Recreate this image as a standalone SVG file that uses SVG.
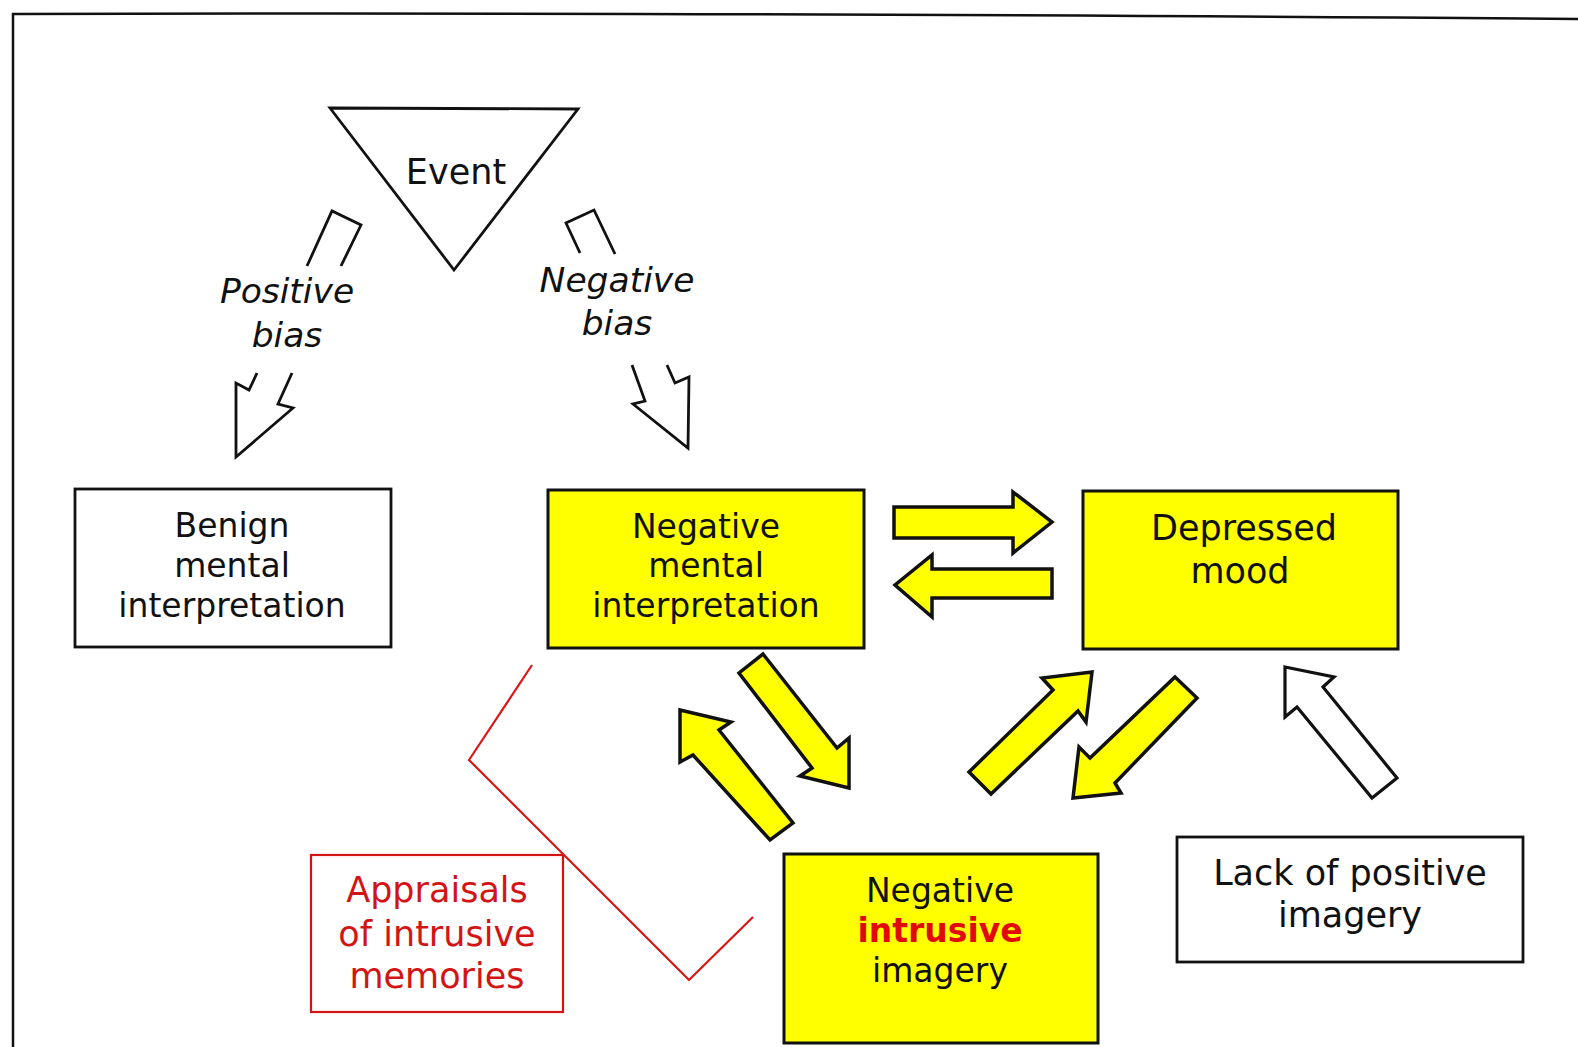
<svg xmlns="http://www.w3.org/2000/svg" width="1578" height="1047" viewBox="0 0 1578 1047">
<style>
.t{font-family:"DejaVu Sans",Verdana,sans-serif;font-size:33px;fill:#111;text-anchor:middle}
.big{font-size:35px}
.it{font-style:italic;font-size:34.5px}
.box{fill:#fff;stroke:#111;stroke-width:2.8}
.ybox{fill:#ffff00;stroke:#111;stroke-width:3}
.yarr{fill:#ffff00;stroke:#111;stroke-width:3.5;stroke-linejoin:miter}
.warr{fill:#fff;stroke:#111;stroke-width:3.2}
.brk{fill:none;stroke:#111;stroke-width:2.8;stroke-linejoin:miter}
.red{fill:none;stroke:#dd1515;stroke-width:2.2}
.rt{fill:#d41414}
</style>
<rect x="0" y="0" width="1578" height="1047" fill="#fff"/>
<path d="M13,1047 L13,14 Q700,12 1578,19" fill="none" stroke="#111" stroke-width="2.5"/>

<g id="event">
<polygon points="330,108 578,109 454,270" fill="#fff" stroke="#111" stroke-width="2.8"/>
<text class="t big" x="456" y="184">Event</text>
</g>

<g id="benign">
<rect class="box" x="75" y="489" width="316" height="158"/>
<text class="t" x="232" y="537">Benign</text>
<text class="t" x="232" y="577">mental</text>
<text class="t" x="232" y="617">interpretation</text>
</g>

<g id="neg-interp">
<rect class="ybox" x="548" y="490" width="316" height="158"/>
<text class="t" x="706" y="538">Negative</text>
<text class="t" x="706" y="577">mental</text>
<text class="t" x="706" y="617">interpretation</text>
</g>

<g id="depressed">
<rect class="ybox" x="1083" y="491" width="315" height="158"/>
<text class="t big" x="1244" y="540">Depressed</text>
<text class="t big" x="1240" y="583">mood</text>
</g>

<g id="neg-intrusive">
<rect class="ybox" x="784" y="854" width="314" height="189"/>
<text class="t" x="940" y="902">Negative</text>
<text class="t" x="940" y="942" style="fill:#e00a0a;font-weight:bold">intrusive</text>
<text class="t" x="940" y="982">imagery</text>
</g>

<g id="lack">
<rect class="box" x="1177" y="837" width="346" height="125"/>
<text class="t big" x="1350" y="885">Lack of positive</text>
<text class="t big" x="1350" y="927">imagery</text>
</g>

<g id="appraisals">
<rect x="311" y="855" width="252" height="157" fill="#fff" stroke="#d41414" stroke-width="2.2"/>
<text class="t big rt" x="437" y="902">Appraisals</text>
<text class="t big rt" x="437" y="946">of intrusive</text>
<text class="t big rt" x="437" y="988">memories</text>
</g>

<g id="connectors">
<g id="positive-bias">
<polyline class="brk" points="307,266 332,211 361,225 341,266"/>
<text class="t it" x="287" y="303">Positive</text>
<text class="t it" x="287" y="347">bias</text>
<polyline class="brk" points="257,373 249,390 236,383 236,457 293,408 278,404 292,373"/>
</g>
<g id="negative-bias">
<polyline class="brk" points="580,253 566,223 594,210 615,254"/>
<text class="t it" x="617" y="292">Negative</text>
<text class="t it" x="617" y="335">bias</text>
<polyline class="brk" points="632,365 645,401 633,404 688,448 689,377 675,383 667,365"/>
</g>
<polygon class="yarr" points="894,507 1013,507 1013,492 1052,522 1013,553 1013,538 894,538"/>
<polygon class="yarr" points="1052,569 932,569 932,555 895,585 932,617 932,598 1052,598"/>
<polygon class="yarr" points="763,654 837,748 849,738 849,788 800,776 812,768 739,673"/>
<polygon class="yarr" points="680,710 731,722 719,730 793,823 770,840 693,755 680,762"/>
<polygon class="yarr" points="1092,672 1086,722 1078,711 991,794 969,772 1053,690 1042,678"/>
<polygon class="yarr" points="1175,677 1197,698 1115,783 1121,793 1073,798 1079,747 1090,758"/>
<polygon class="warr" points="1285,667 1334,677 1323,687 1397,778 1372,798 1297,707 1285,717"/>
<polyline class="red" points="532,665 469,760 689,980 753,917"/>
</g>
</svg>
